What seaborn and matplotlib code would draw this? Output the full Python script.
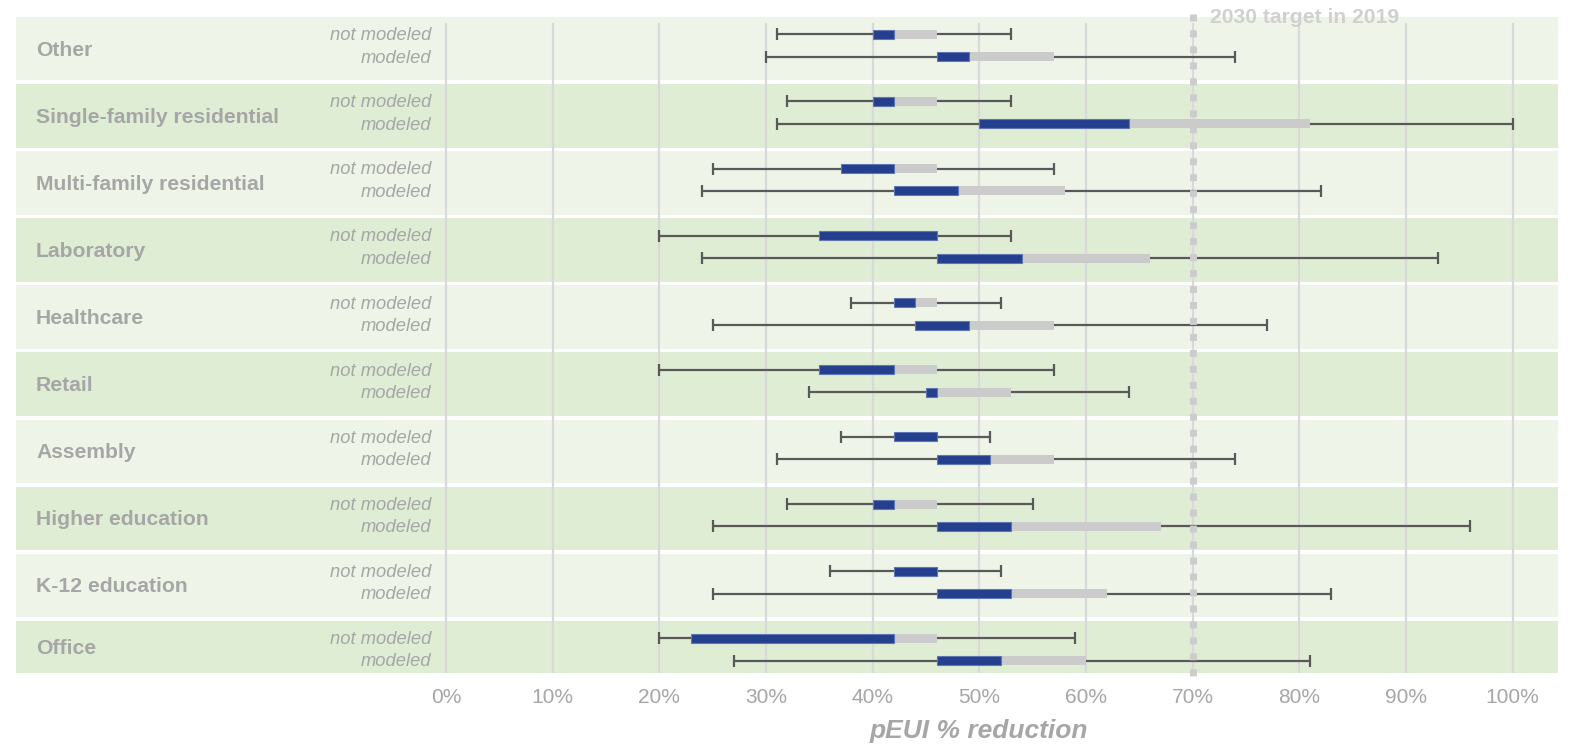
import numpy as np
import pandas as pd
import matplotlib
matplotlib.use("Agg")
import matplotlib.pyplot as plt
import seaborn as sns

# ---------------- data ----------------
categories = ["Other", "Single-family residential", "Multi-family residential",
              "Laboratory", "Healthcare", "Retail", "Assembly",
              "Higher education", "K-12 education", "Office"]
row_labels = ["not modeled", "modeled"]

# five-number summaries (min, Q1, median, Q3, max) in % reduction
nm_min = [31, 32, 25, 20, 38, 20, 37, 32, 36, 20]
nm_q1  = [40, 40, 37, 35, 42, 35, 42, 40, 42, 23]
nm_med = [42, 42, 42, 46, 44, 42, 46, 42, 46, 42]
nm_q3  = [46, 46, 46, 46, 46, 46, 46, 46, 46, 46]
nm_max = [53, 53, 57, 53, 52, 57, 51, 55, 52, 59]

m_min = [30, 31, 24, 24, 25, 34, 31, 25, 25, 27]
m_q1  = [46, 50, 42, 46, 44, 45, 46, 46, 46, 46]
m_med = [49, 64, 48, 54, 49, 46, 51, 53, 53, 52]
m_q3  = [57, 81, 58, 66, 57, 53, 57, 67, 62, 60]
m_max = [74, 100, 82, 93, 77, 64, 74, 96, 83, 81]

x_ticks = [0, 10, 20, 30, 40, 50, 60, 70, 80, 90, 100]
x_tick_labels = [f"{t}%" for t in x_ticks]
target_value = 70
target_label = "2030 target in 2019"
x_title = "pEUI % reduction"

rows = []
for i, c in enumerate(categories):
    rows.append(dict(cat=c, idx=i, row="not modeled", mn=nm_min[i], q1=nm_q1[i],
                     med=nm_med[i], q3=nm_q3[i], mx=nm_max[i]))
    rows.append(dict(cat=c, idx=i, row="modeled", mn=m_min[i], q1=m_q1[i],
                     med=m_med[i], q3=m_q3[i], mx=m_max[i]))
df = pd.DataFrame(rows)

# ---------------- style ----------------
sns.set_theme(style="white")
plt.rcParams["font.family"] = ["Liberation Sans", "DejaVu Sans"]

TXT = "#A6A6A6"
BLUE = "#243F8D"
BLUE_EDGE = "#5F76B2"
GREY_BOX = "#CBCBCB"
WHISK = "#595959"
GRID = "#D9D9D9"
BAND_LIGHT = "#EEF5E8"
BAND_DARK = "#DFEDD5"

fig = plt.figure(figsize=(15.69, 7.45), dpi=100)
W, H = 1569, 745
ax = fig.add_axes([16 / W, 1 - 673 / H, (1558 - 16) / W, (673 - 17) / H])

PX_PER_UNIT_X = 10.665
X0 = 446
ax.set_xlim((16 - X0) / PX_PER_UNIT_X, (1558 - X0) / PX_PER_UNIT_X)
PER = 67.1
YMAX = (673 - 17) / PER
ax.set_ylim(YMAX, 0)

# bands
band_h = 0.946
for i, c in enumerate(categories):
    col = BAND_LIGHT if i % 2 == 0 else BAND_DARK
    ax.axhspan(i, i + band_h, color=col, lw=0, zorder=0)

# gridlines
ax.vlines(x_ticks, 6 / PER, YMAX, colors=GRID, lw=1.6, zorder=1)

off = {"not modeled": 0.258, "modeled": 0.592}
box_h = 9 / PER
cap_h = 12 / PER

for _, r in df.iterrows():
    y = r["idx"] + off[r["row"]]
    ax.hlines(y, r["mn"], r["mx"], colors=WHISK, lw=1.6, zorder=2)
    ax.vlines([r["mn"], r["mx"]], y - cap_h / 2, y + cap_h / 2, colors=WHISK, lw=1.6, zorder=2)
    if r["q3"] > r["med"]:
        ax.barh(y, r["q3"] - r["med"], left=r["med"], height=box_h, color=GREY_BOX,
                lw=0, zorder=3)
    if r["med"] > r["q1"]:
        ax.barh(y, r["med"] - r["q1"], left=r["q1"], height=box_h, color=BLUE,
                edgecolor=BLUE_EDGE, lw=0.8, zorder=4)
    ax.text(-1.4, y + 0.02, r["row"], ha="right", va="center", fontsize=13.2,
            style="italic", color=TXT, zorder=5)

for i, c in enumerate(categories):
    yc = (i + min(i + band_h, YMAX)) / 2 + 0.02
    ax.text((36 - X0) / PX_PER_UNIT_X, yc, c, ha="left", va="center",
            fontsize=15.2, fontweight="bold", color=TXT, zorder=5)

# target line
ax.plot([target_value, target_value], [-3 / PER, (678 - 17) / PER], color="#CCCCCC",
        lw=5.0, linestyle=(0, (1.0, 1.3)), solid_capstyle="butt",
        dash_capstyle="butt", zorder=6, clip_on=False)
ax.text((1210 - X0) / PX_PER_UNIT_X, (23 - 17) / PER, target_label, ha="left",
        va="baseline", fontsize=15.2, fontweight="bold", color="#D0D0D0",
        zorder=7, clip_on=False)

# x axis
ax.set_xticks(x_ticks)
ax.set_xticklabels(x_tick_labels, fontsize=15, color=TXT)
ax.tick_params(axis="x", length=0, pad=10.5)
ax.set_yticks([])
ax.text(50, (731 - 17) / PER, x_title, ha="center", va="center", fontsize=19,
        fontweight="bold", style="italic", color=TXT, clip_on=False)
sns.despine(ax=ax, left=True, bottom=True)
for s in ax.spines.values():
    s.set_visible(False)
ax.set_facecolor("white")

fig.savefig("out.png", dpi=100)
